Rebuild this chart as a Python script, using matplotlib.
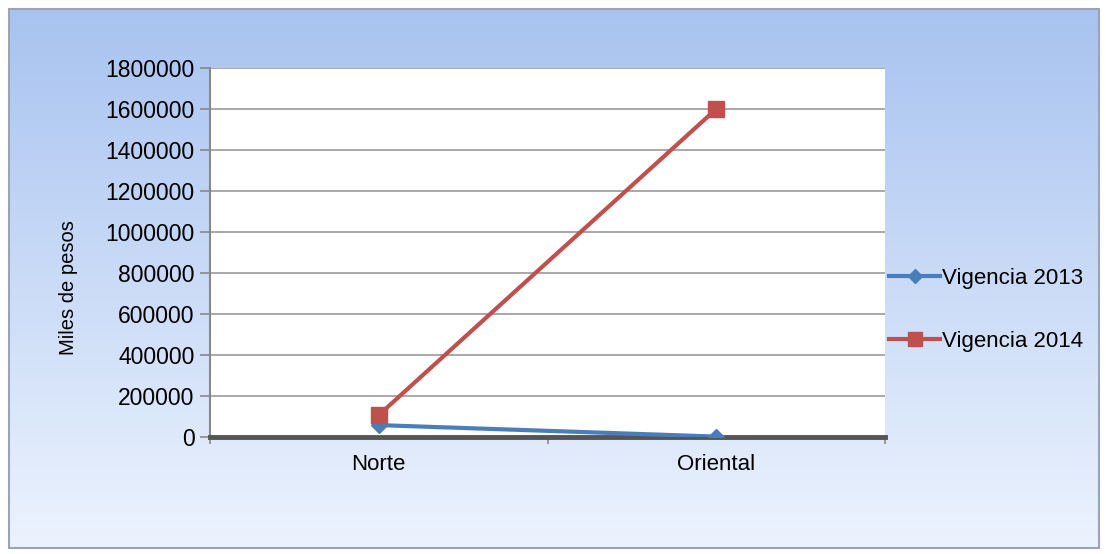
import matplotlib
matplotlib.use("Agg")
import matplotlib.pyplot as plt
import numpy as np
from matplotlib.patches import Rectangle
from matplotlib.lines import Line2D

categories = ["Norte", "Oriental"]
vig2013 = [58000, 2000]
vig2014 = [107000, 1600000]
yticks = [0, 200000, 400000, 600000, 800000, 1000000, 1200000, 1400000, 1600000, 1800000]

plt.rcParams['font.family'] = ['Liberation Sans', 'DejaVu Sans']

W, H = 1106, 554
fig = plt.figure(figsize=(W/100, H/100), dpi=100)
fig.patch.set_facecolor('white')

# background gradient frame
bg = fig.add_axes([0, 0, 1, 1], zorder=0)
bg.set_xlim(0, W); bg.set_ylim(H, 0); bg.axis('off')
top = np.array([0xa8, 0xc3, 0xf0]) / 255
bot = np.array([0xec, 0xf3, 0xfe]) / 255
t = np.linspace(0, 1, 256)[:, None, None]
grad = top * (1 - t) + bot * t
grad = np.repeat(grad, 2, axis=1)
bg.imshow(grad, extent=[9, 1099, 548, 9], aspect='auto', zorder=1)
bg.add_patch(Rectangle((9, 9), 1090, 539, fill=False, edgecolor='#9aa4b4', lw=1.5, zorder=2))

ax = fig.add_axes([210/W, (H-437)/H, 675/W, 369/H], zorder=2)
ax.set_facecolor('white')
x = np.arange(len(categories))
ax.plot(x, vig2013, color='#4a7ebb', lw=3, marker='D', ms=8, label='Vigencia 2013', zorder=4)
ax.plot(x, vig2014, color='#c0504d', lw=3, marker='s', ms=12, label='Vigencia 2014', zorder=5)

ax.set_xlim(-0.5, 1.5)
ax.set_ylim(0, 1800000)
ax.set_yticks(yticks)
ax.set_yticklabels([str(v) for v in yticks], fontsize=16.5)
ax.yaxis.grid(True, color='#999999', lw=1.2)
ax.set_axisbelow(True)
ax.set_xticks(x)
ax.set_xticklabels(categories, fontsize=16)
ax.set_xticks([-0.5, 0.5, 1.5], minor=True)
ax.tick_params(axis='x', which='major', length=0, pad=12)
ax.tick_params(axis='x', which='minor', length=5, color='#888888', width=1.2)
ax.tick_params(axis='y', length=7, color='#888888', width=1.2, pad=4)
for s in ['top', 'right']:
    ax.spines[s].set_visible(False)
ax.spines['left'].set_color('#888888')
ax.spines['left'].set_linewidth(1.5)
ax.spines['bottom'].set_color('#555555')
ax.spines['bottom'].set_linewidth(3.5)
ax.set_ylabel('Miles de pesos', fontsize=14.5)
ax.yaxis.set_label_coords((78 - 210) / 675, 0.404)

handles = [Line2D([], [], color='#4a7ebb', lw=3, marker='D', ms=7),
           Line2D([], [], color='#c0504d', lw=3, marker='s', ms=10)]
fig.legend(handles, ['Vigencia 2013', 'Vigencia 2014'], loc='center left',
           bbox_to_anchor=(869/W, (H-310)/H), frameon=False, fontsize=16,
           handlelength=2.3, handletextpad=0.1, labelspacing=1.9)

fig.savefig('out.png', dpi=100)
